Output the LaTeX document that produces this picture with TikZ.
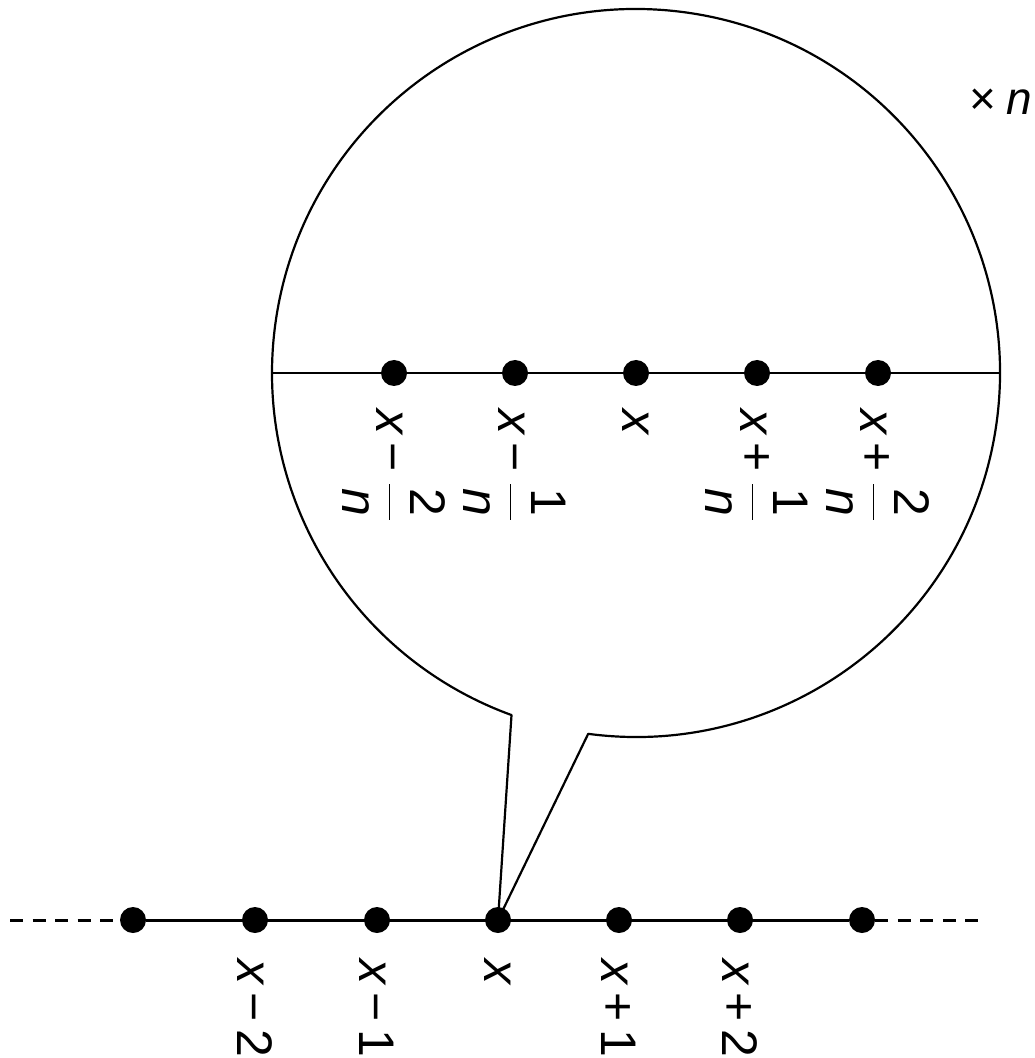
\documentclass[tikz,border=0pt]{standalone}
\usepackage{fontspec}
\setmainfont{Liberation Sans}
\newcommand{\gp}{\kern0.14em}
\newcommand{\fr}[2]{\kern0.06em$\displaystyle\frac{\hbox{\kern0.08em#1\kern0.08em}}{\hbox{\itshape #2}}$}
\begin{document}
\begin{tikzpicture}[x=0.5pt,y=-0.5pt,
  dot/.style={circle,fill=black,inner sep=0pt,minimum size=13pt},
  lbl/.style={rotate=-90,anchor=west,inner sep=0pt,font=\fontsize{25}{30}\selectfont},
  axisline/.style={line width=1.5pt},
  dashline/.style={line width=1.5pt,dash pattern=on 6.5pt off 4.75pt},
  outline/.style={line width=1.1pt,line join=round}]
\useasboundingbox (0,0) rectangle (1034,1058);
% bottom line
\foreach \i/\x in {1/133,2/255,3/377,4/498,5/619,6/740,7/862}
  \node[dot] (b\i) at (\x,920) {};
\coordinate (dl) at (10,920);
\coordinate (dr) at (985,920);
\draw[axisline] (b1) -- (b7);
\draw[dashline] (dl) -- (b1);
\draw[dashline] (b7) -- (dr);
% magnifier
\coordinate (c) at (636,373);
\coordinate (cl) at (272,373);
\coordinate (cr) at (1000,373);
\draw[outline] (c) ++(97.55:364) arc[start angle=97.55,end angle=-250,radius=364] -- (b4.center) -- cycle;
\draw[line width=1.3pt] (cl) -- (cr);
\foreach \i/\x in {1/394,2/515,3/636,4/757,5/878}
  \node[dot] (t\i) at (\x,373) {};
% bottom labels
\node[lbl] (lb2) at (255,959) {\textit{x}\gp−\gp2};
\node[lbl] (lb3) at (377,959) {\textit{x}\gp−\gp1};
\node[lbl] (lb4) at (498,959) {\textit{x}};
\node[lbl] (lb5) at (619,959) {\textit{x}\gp+\gp1};
\node[lbl] (lb6) at (740,959) {\textit{x}\gp+\gp2};
% top labels
\node[lbl] (lt1) at (394,409) {\textit{x}\gp−\gp\fr{2}{n}};
\node[lbl] (lt2) at (515,409) {\textit{x}\gp−\gp\fr{1}{n}};
\node[lbl] (lt3) at (636,409) {\textit{x}};
\node[lbl] (lt4) at (757,409) {\textit{x}\gp+\gp\fr{1}{n}};
\node[lbl] (lt5) at (878,409) {\textit{x}\gp+\gp\fr{2}{n}};
% factor
\node[font=\fontsize{23}{28}\selectfont,inner sep=0pt,anchor=base east] (fac) at (1032,115) {×\kern0.2em\textit{n}};
\end{tikzpicture}
\end{document}
